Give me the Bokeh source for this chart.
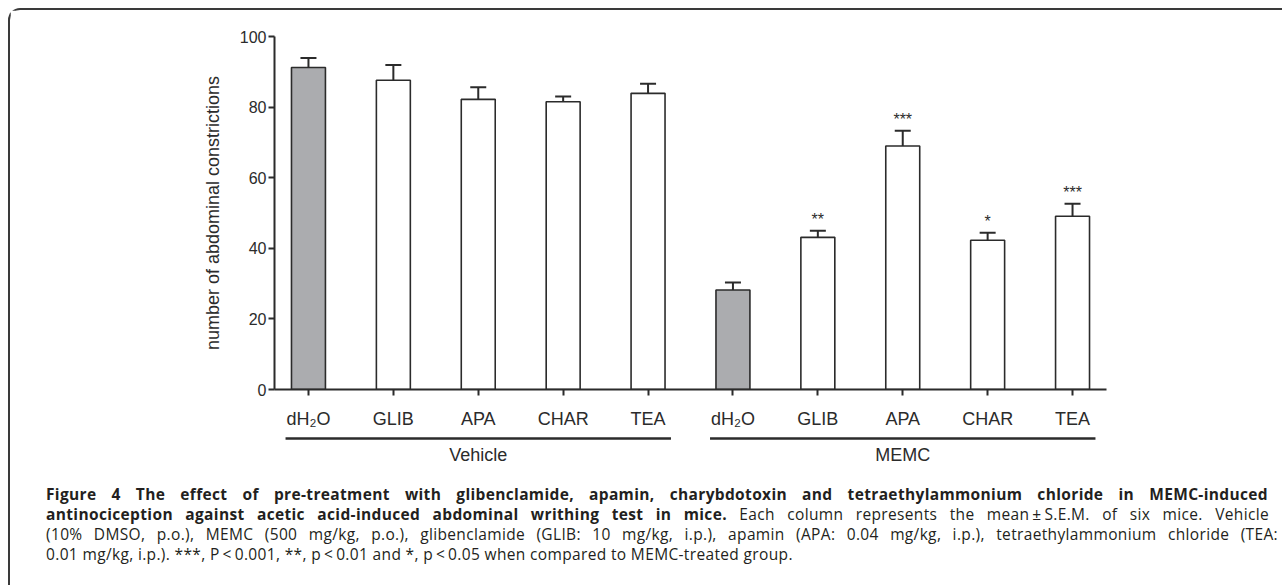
from bokeh.plotting import figure
from bokeh.models import (Range1d, FixedTicker, Whisker, TeeHead, ColumnDataSource, Div)
from bokeh.layouts import column
from bokeh.core.properties import value
from bokeh.embed import file_html
from bokeh.resources import INLINE

# ---------------- data ----------------
treatments = ["dH\u2082O", "GLIB", "APA", "CHAR", "TEA"]
groups = ["Vehicle", "MEMC"]
vehicle_mean = [91.2, 87.6, 82.2, 81.5, 83.9]
vehicle_sem = [2.7, 4.3, 3.4, 1.5, 2.7]
vehicle_sig = ["", "", "", "", ""]
memc_mean = [28.2, 43.1, 69.0, 42.3, 49.1]
memc_sem = [2.1, 1.9, 4.3, 2.1, 3.5]
memc_sig = ["", "**", "***", "*", "***"]
y_ticks = [0, 20, 40, 60, 80, 100]
y_label = "number of abdominal constrictions"

# ---------------- styling ----------------
FONT = "Liberation Sans"
INK = "#2b2b2b"
GREY = "#abacaf"
LEFT, RIGHT, FRAME_W = 264, 174, 832

means = vehicle_mean + memc_mean
sems = vehicle_sem + memc_sem
sigs = vehicle_sig + memc_sig
labels = treatments + treatments
xs = list(range(len(means)))
fills = [GREY if t == treatments[0] else "white" for t in labels]

src = ColumnDataSource(dict(
    x=xs, mean=means, upper=[m + s for m, s in zip(means, sems)],
    sig=sigs, fill=fills))

xr = Range1d(-0.4, len(xs) - 0.6)
p = figure(frame_width=FRAME_W, frame_height=353, output_backend="svg",
           toolbar_location=None, x_range=xr, y_range=Range1d(0, 100),
           min_border_left=LEFT, min_border_right=RIGHT, min_border_top=26,
           min_border_bottom=41)
p.grid.grid_line_color = None
p.outline_line_color = None
p.background_fill_color = "white"
p.border_fill_color = "white"

p.vbar(x="x", top="mean", bottom=0, width=0.4, fill_color="fill",
       line_color=INK, line_width=1.6, source=src)

wh = Whisker(base="x", upper="upper", lower="mean", source=src,
             line_color=INK, line_width=2,
             upper_head=TeeHead(size=16, line_color=INK, line_width=2),
             lower_head=None, level="overlay")
p.add_layout(wh)

p.text(x="x", y="upper", text="sig", source=src, text_align="center",
       text_baseline="middle", y_offset=-11, text_font=value(FONT),
       text_font_size="16px", text_color=INK)

# y axis
ya = p.yaxis[0]
ya.ticker = FixedTicker(ticks=y_ticks)
ya.axis_label = y_label
ya.axis_label_text_font = FONT
ya.axis_label_text_font_style = "normal"
ya.axis_label_text_font_size = "18px"
ya.axis_label_text_color = INK
ya.axis_label_standoff = 14
ya.major_label_text_font = FONT
ya.major_label_text_font_size = "16px"
ya.major_label_text_color = INK
ya.major_label_standoff = 2
ya.axis_line_width = 2
ya.axis_line_color = INK
ya.major_tick_line_width = 2
ya.major_tick_line_color = INK
ya.major_tick_in = 0
ya.major_tick_out = 6
ya.minor_tick_line_color = None

# x axis
xa = p.xaxis[0]
xa.ticker = FixedTicker(ticks=xs)
xa.major_label_overrides = {x: lab for x, lab in zip(xs, labels)}
xa.major_label_text_font = FONT
xa.major_label_text_font_size = "18px"
xa.major_label_text_color = INK
xa.major_label_standoff = 13
xa.axis_line_width = 2
xa.axis_line_color = INK
xa.major_tick_line_width = 2
xa.major_tick_line_color = INK
xa.major_tick_in = 0
xa.major_tick_out = 6
xa.minor_tick_line_color = None

# ---------------- group brackets (strip sharing the x scale) ----------------
n = len(treatments)
gsrc = ColumnDataSource(dict(
    x0=[g * n - 0.27 for g in range(len(groups))],
    x1=[g * n + n - 1 + 0.27 for g in range(len(groups))],
    xc=[g * n + (n - 1) / 2 for g in range(len(groups))],
    name=groups))
g = figure(frame_width=FRAME_W, frame_height=48, output_backend="svg",
           toolbar_location=None, x_range=xr, y_range=Range1d(0, 48),
           min_border_left=LEFT, min_border_right=RIGHT, min_border_top=0,
           min_border_bottom=0, x_axis_location=None, y_axis_location=None)
g.grid.grid_line_color = None
g.outline_line_color = None
g.segment(x0="x0", x1="x1", y0=41, y1=41, source=gsrc, line_color=INK,
          line_width=2.5)
g.text(x="xc", y=25, text="name", source=gsrc, text_align="center",
       text_baseline="middle", text_font=value(FONT), text_font_size="18px",
       text_color=INK)

# ---------------- caption ----------------
J = "text-align:justify;text-align-last:justify;white-space:nowrap;"
cap_html = (
    '<div style="font-family:\'Open Sans\';font-size:15.5px;line-height:20px;'
    'letter-spacing:0.35px;color:#231f20;padding-left:31px;padding-top:0px;">'
    f'<div style="{J}width:1222px;"><b>Figure 4 The effect of pre-treatment with glibenclamide, apamin, '
    'charybdotoxin and tetraethylammonium chloride in MEMC-induced</b></div>'
    f'<div style="{J}width:1223px;"><b>antinociception against acetic acid-induced abdominal writhing '
    'test in mice.</b> Each column represents the mean\u2009\u00b1\u2009S.E.M. of six mice. Vehicle</div>'
    f'<div style="{J}width:1232px;">(10% DMSO, p.o.), MEMC (500 mg/kg, p.o.), glibenclamide (GLIB: 10 mg/kg, i.p.), '
    'apamin (APA: 0.04 mg/kg, i.p.), tetraethylammonium chloride (TEA:</div>'
    '<div style="white-space:nowrap;">0.01 mg/kg, i.p.). ***, P\u2009&lt;\u20090.001, **, p\u2009&lt;\u20090.01 '
    'and *, p\u2009&lt;\u20090.05 when compared to MEMC-treated group.</div>'
    '</div>'
)
cap = Div(text=cap_html, width=LEFT + FRAME_W + RIGHT, height=96)

layout = column(p, g, cap, spacing=0,
                styles={"margin-left": "8px", "margin-top": "8px",
                        "border-top": "2px solid #3a3a3a",
                        "border-left": "2px solid #3a3a3a",
                        "border-top-left-radius": "12px"})

open("out.html", "w").write(file_html(layout, INLINE))
